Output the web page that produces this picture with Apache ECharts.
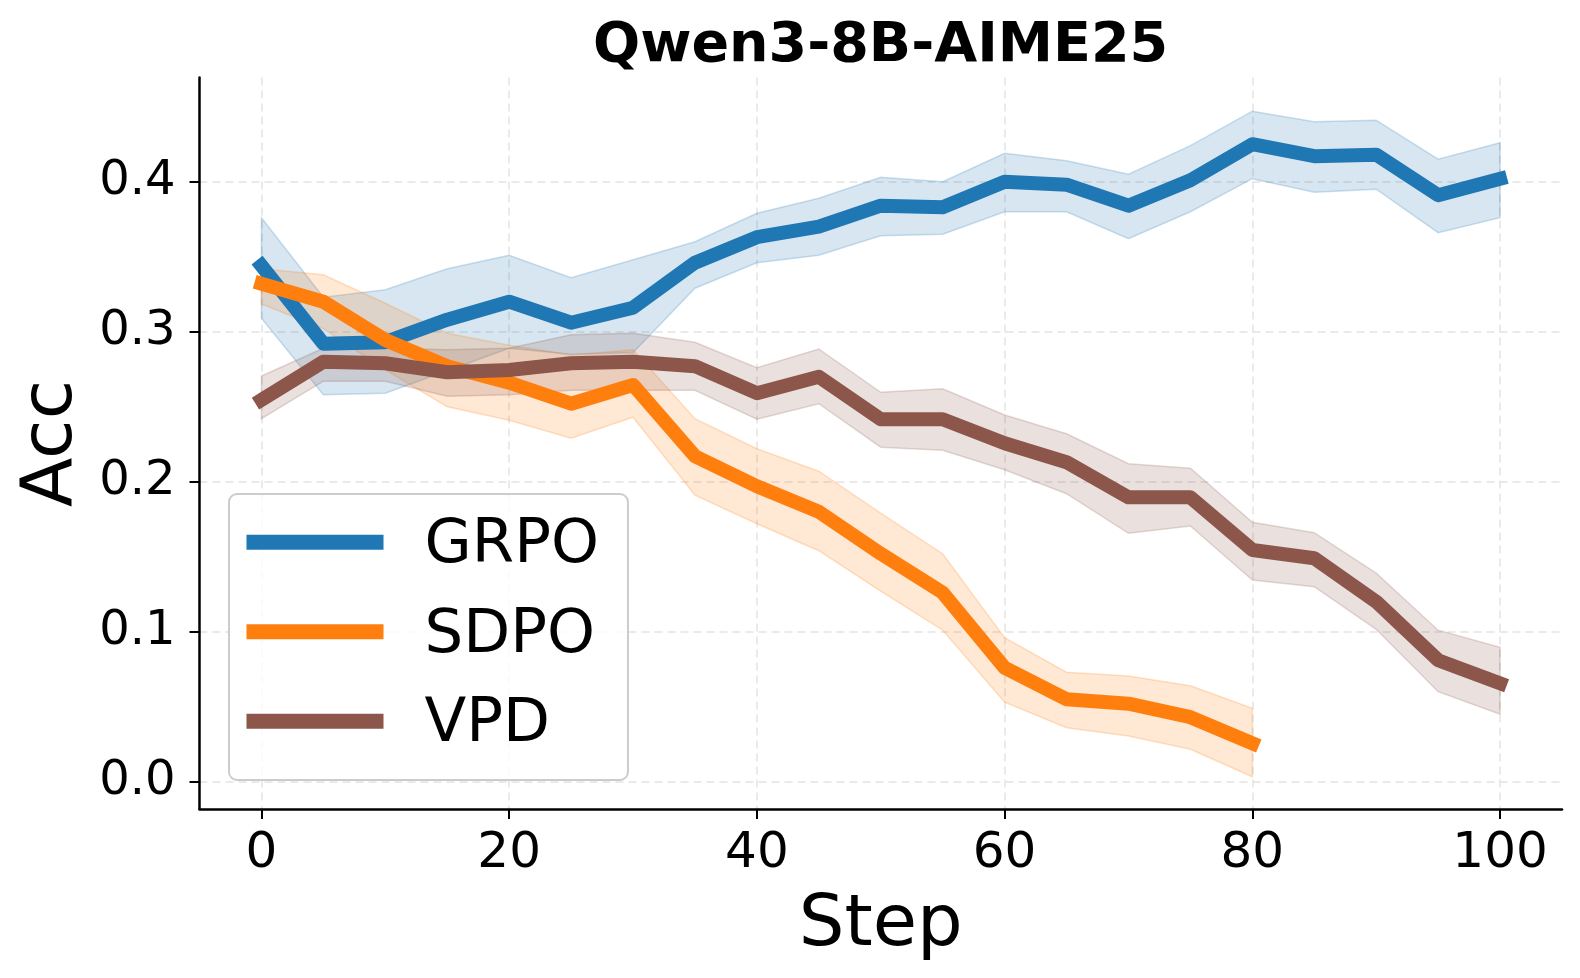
<!DOCTYPE html>
<html>
<head>
<meta charset="utf-8">
<title>Qwen3-8B-AIME25</title>
<script src="https://cdn.jsdelivr.net/npm/echarts@6/dist/echarts.min.js"></script>
<style>
  html, body { margin: 0; padding: 0; background: #fff; }
  #main { width: 1580px; height: 978px; }
</style>
</head>
<body>
<div id="main"></div>
<script>
  // steps on the x axis
  var steps = [0, 5, 10, 15, 20, 25, 30, 35, 40, 45, 50, 55, 60, 65, 70, 75, 80, 85, 90, 95, 100]

  var grpoMean = [0.344, 0.292, 0.293, 0.308, 0.320, 0.306, 0.316, 0.346, 0.363, 0.370, 0.384, 0.383, 0.400, 0.398, 0.384, 0.401, 0.425, 0.417, 0.418, 0.391, 0.402]
  var grpoLow = [0.309, 0.258, 0.259, 0.274, 0.289, 0.285, 0.286, 0.329, 0.346, 0.351, 0.364, 0.365, 0.380, 0.380, 0.362, 0.380, 0.402, 0.393, 0.395, 0.366, 0.376]
  var grpoHigh = [0.376, 0.323, 0.328, 0.342, 0.351, 0.336, 0.348, 0.360, 0.379, 0.389, 0.403, 0.400, 0.419, 0.414, 0.405, 0.424, 0.447, 0.440, 0.441, 0.415, 0.426]

  // SDPO stops at step 80
  var sdpoMean = [0.332, 0.320, 0.2945, 0.277, 0.266, 0.252, 0.2645, 0.217, 0.197, 0.180, 0.152, 0.126, 0.076, 0.055, 0.052, 0.043, 0.0256]
  var sdpoLow = [0.3185, 0.302, 0.2745, 0.250, 0.241, 0.229, 0.243, 0.191, 0.172, 0.154, 0.127, 0.101, 0.053, 0.036, 0.0305, 0.0216, 0.0033]
  var sdpoHigh = [0.342, 0.338, 0.319, 0.299, 0.291, 0.2845, 0.288, 0.242, 0.222, 0.207, 0.179, 0.152, 0.096, 0.073, 0.0705, 0.064, 0.049]

  var vpdMean = [0.2545, 0.280, 0.279, 0.273, 0.2745, 0.279, 0.280, 0.277, 0.259, 0.270, 0.2416, 0.2416, 0.2256, 0.213, 0.1896, 0.1896, 0.1545, 0.149, 0.120, 0.081, 0.0656]
  var vpdLow = [0.242, 0.267, 0.267, 0.257, 0.258, 0.261, 0.261, 0.261, 0.2416, 0.252, 0.223, 0.221, 0.208, 0.192, 0.1656, 0.1705, 0.1345, 0.130, 0.1016, 0.060, 0.045]
  var vpdHigh = [0.2705, 0.289, 0.289, 0.288, 0.289, 0.298, 0.299, 0.293, 0.276, 0.2885, 0.2596, 0.262, 0.2445, 0.232, 0.212, 0.209, 0.173, 0.166, 0.139, 0.101, 0.0896]

  var xTicks = [0, 20, 40, 60, 80, 100]
  var yTicks = [0, 0.1, 0.2, 0.3, 0.4]

  var FONT = '"DejaVu Sans", sans-serif'
  // legend handle: a 137x15 bar, the extra moveTo lifts it a little against the text
  var HANDLE = 'path://M0,0L137,0L137,15L0,15Z M0,23'

  var methods = [
    { name: 'GRPO', color: '#1f77b4', rgb: '31,119,180', mean: grpoMean, low: grpoLow, high: grpoHigh },
    { name: 'SDPO', color: '#ff7f0e', rgb: '255,127,14', mean: sdpoMean, low: sdpoLow, high: sdpoHigh },
    { name: 'VPD', color: '#8c564b', rgb: '140,86,75', mean: vpdMean, low: vpdLow, high: vpdHigh }
  ]

  function bandSeries(m) {
    var data = m.low.map(function (v, i) { return [steps[i], v, m.high[i]] })
    return {
      type: 'custom',
      silent: true,
      z: 1,
      data: data,
      encode: { x: 0, y: [1, 2] },
      renderItem: function (params, api) {
        if (params.dataIndex !== 0) return
        var pts = []
        for (var i = 0; i < data.length; i++) pts.push(api.coord([data[i][0], data[i][2]]))
        for (var j = data.length - 1; j >= 0; j--) pts.push(api.coord([data[j][0], data[j][1]]))
        return {
          type: 'polygon',
          shape: { points: pts },
          style: {
            fill: 'rgba(' + m.rgb + ',0.18)',
            stroke: 'rgba(' + m.rgb + ',0.22)',
            lineWidth: 1.5
          }
        }
      }
    }
  }

  function lineSeries(m, idx) {
    return {
      name: m.name,
      type: 'line',
      z: 3 + idx,
      showSymbol: false,
      symbol: 'none',
      color: m.color,
      data: m.mean.map(function (v, i) { return [steps[i], v] }),
      lineStyle: { width: 14, color: m.color, cap: 'square', join: 'round' },
      emphasis: { disabled: true }
    }
  }

  var series = []
  methods.forEach(function (m, i) {
    series.push(lineSeries(m, i))
    series.push(bandSeries(m))
  })

  var myChart = echarts.init(document.getElementById('main'), null, { renderer: 'canvas' })

  var option = {
    backgroundColor: '#ffffff',
    animation: false,
    title: {
      text: 'Qwen3-8B-AIME25',
      left: 588,
      top: 14,
      textStyle: { fontFamily: FONT, fontSize: 55.5, fontWeight: 'bold', color: '#000' }
    },
    legend: {
      left: 229,
      top: 494,
      orient: 'vertical',
      data: methods.map(function (m) { return { name: m.name, icon: HANDLE } }),
      itemWidth: 137,
      itemHeight: 23,
      itemGap: 28.5,
      padding: [21.8, 29, 24.2, 17.5],
      backgroundColor: 'rgba(255,255,255,0.8)',
      borderColor: '#cccccc',
      borderWidth: 2,
      borderRadius: 8,
      selectedMode: false,
      textStyle: {
        fontFamily: FONT,
        fontSize: 61,
        lineHeight: 61,
        color: '#000',
        padding: [0, 0, 0, 36]
      }
    },
    grid: {
      left: 199.5,
      right: 18,
      top: 77.6,
      bottom: 169,
      containLabel: false,
      outerBoundsMode: 'none'
    },
    xAxis: {
      type: 'value',
      min: -5,
      max: 105,
      name: 'Step',
      nameLocation: 'middle',
      nameGap: 81,
      nameTextStyle: { fontFamily: FONT, fontSize: 72, color: '#000' },
      axisLine: { onZero: false, lineStyle: { color: '#000', width: 2.5 } },
      axisTick: { show: true, length: 10, lineStyle: { color: '#000', width: 2 }, customValues: xTicks },
      axisLabel: {
        customValues: xTicks,
        margin: 20,
        fontFamily: FONT,
        fontSize: 50,
        color: '#000'
      },
      splitLine: { show: true, lineStyle: { color: '#e3e3e3', width: 1.5, type: [8, 5] } }
    },
    yAxis: {
      type: 'value',
      min: -0.0182,
      max: 0.4694,
      name: 'Acc',
      nameLocation: 'middle',
      nameGap: 103,
      nameRotate: 90,
      nameTextStyle: { fontFamily: FONT, fontSize: 72, color: '#000' },
      axisLine: { show: true, onZero: false, lineStyle: { color: '#000', width: 2.5 } },
      axisTick: { show: true, length: 10, lineStyle: { color: '#000', width: 2 }, customValues: yTicks },
      axisLabel: {
        customValues: yTicks,
        margin: 24,
        fontFamily: FONT,
        fontSize: 48,
        color: '#000',
        formatter: function (v) { return v.toFixed(1) }
      },
      splitLine: { show: true, lineStyle: { color: '#e3e3e3', width: 1.5, type: [8, 5] } }
    },
    series: series
  }

  myChart.setOption(option)
  window.addEventListener('resize', function () {
    myChart.resize()
  })
</script>
</body>
</html>
